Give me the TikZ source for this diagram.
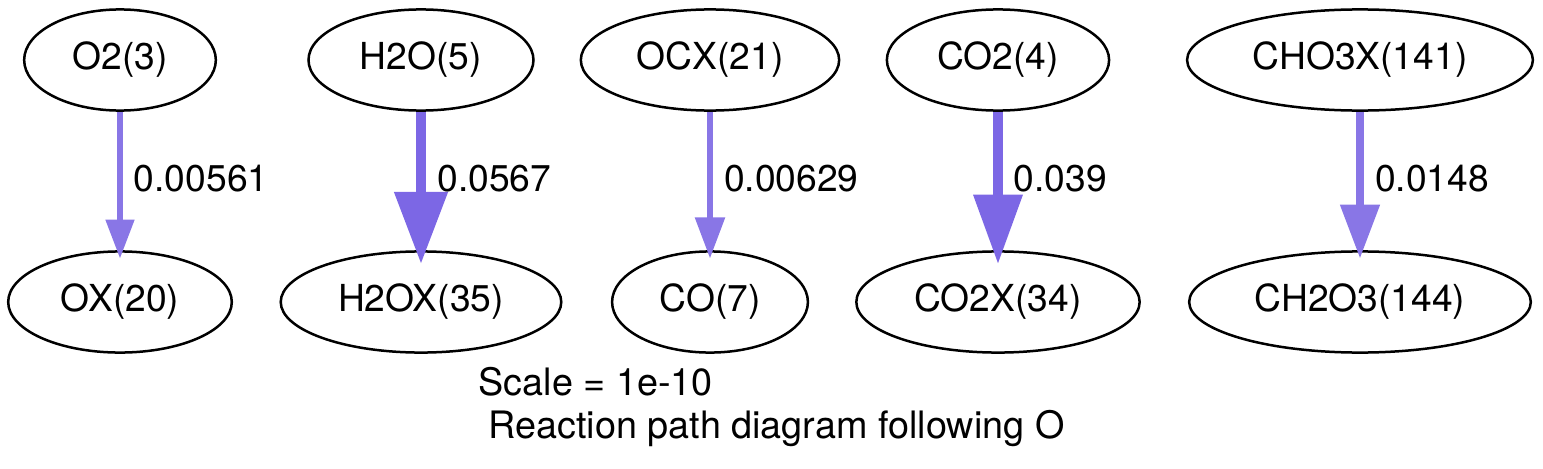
\documentclass[tikz,border=0pt]{standalone}
\usepackage{fontspec}
\setmainfont{TeX Gyre Heros}
\usepackage{xcolor}
\definecolor{fluxlo}{RGB}{137,118,230}
\definecolor{fluxhi}{RGB}{124,103,229}
\usepackage{tikz}
\usetikzlibrary{arrows.meta,shapes.geometric}
\tikzset{
  species/.style={ellipse,draw=black,line width=0.9pt,inner sep=0pt,%
    minimum height=36.4pt,font=\fontsize{13.4}{16}\selectfont},
  flow/.style n args={3}{line width=#1,shorten >=-3pt,%
    -{Triangle[length=#2,width=#3]}},
  rate/.style={anchor=west,xshift=4pt,inner sep=0pt,pos=0.48,text=black,%
    font=\fontsize{13.4}{16}\selectfont},
  caption/.style={anchor=base west,inner sep=0pt,font=\fontsize{13.6}{16}\selectfont},
}

\begin{document}
\begin{tikzpicture}[x=0.36pt,y=-0.36pt]
\useasboundingbox (0,0) rectangle (1543,469);
\node[species,minimum width=69pt] (o2) at (120,60) {O2(3)};
\node[species,minimum width=81pt] (h2o) at (421,60) {H2O(5)};
\node[species,minimum width=93pt] (ocx) at (710,60) {OCX(21)};
\node[species,minimum width=80pt] (co2) at (998,60) {CO2(4)};
\node[species,minimum width=124.5pt] (cho3x) at (1360,60) {CHO3X(141)};
\node[species,minimum width=80.5pt] (ox) at (120,302) {OX(20)};
\node[species,minimum width=101pt] (h2ox) at (421,302) {H2OX(35)};
\node[species,minimum width=70.5pt] (co) at (710,302) {CO(7)};
\node[species,minimum width=102pt] (co2x) at (998,302) {CO2X(34)};
\node[species,minimum width=123pt] (ch2o3) at (1360,302) {CH2O3(144)};
\draw[flow={2pt}{14pt}{10pt},fluxlo] (o2) -- node[rate]{0.00561} (ox);
\draw[flow={3.9pt}{26pt}{18.4pt},fluxhi,shorten >=-5pt] (h2o) -- node[rate]{0.0567} (h2ox);
\draw[flow={2.1pt}{14.8pt}{10.4pt},fluxlo] (ocx) -- node[rate]{0.00629} (co);
\draw[flow={3.4pt}{25pt}{17pt},fluxhi,shorten >=-5pt] (co2) -- node[rate]{0.039} (co2x);
\draw[flow={2.8pt}{19.4pt}{13.7pt},fluxlo] (cho3x) -- node[rate]{0.0148} (ch2o3);
\node[caption] (scale) at (478,395) {Scale = 1e-10};
\node[caption] (title) at (488,438) {Reaction path diagram following O};
\end{tikzpicture}
\end{document}
